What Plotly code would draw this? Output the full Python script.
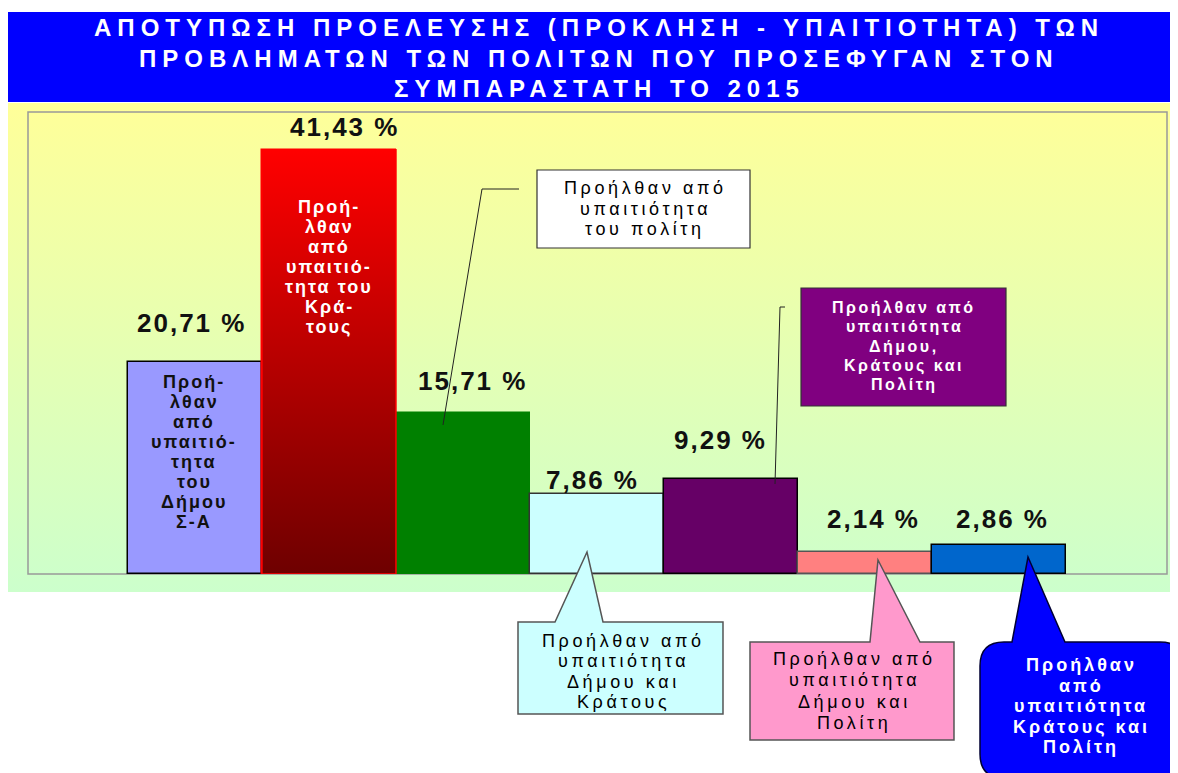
import base64
import plotly.graph_objects as go

# ---------------- data ----------------
categories = [
    "Προήλθαν από υπαιτιότητα του Δήμου Σ-Α",
    "Προήλθαν από υπαιτιότητα του Κράτους",
    "Προήλθαν από υπαιτιότητα του πολίτη",
    "Προήλθαν από υπαιτιότητα Δήμου και Κράτους",
    "Προήλθαν από υπαιτιότητα Δήμου, Κράτους και Πολίτη",
    "Προήλθαν από υπαιτιότητα Δήμου και Πολίτη",
    "Προήλθαν από υπαιτιότητα Κράτους και Πολίτη",
]
values = [20.71, 41.43, 15.71, 7.86, 9.29, 2.14, 2.86]
bar_colors = ["#9999FF", "#C00000", "#008000", "#CCFFFF", "#660066", "#FF8080", "#0066CC"]
line_colors = ["#000000", "#FF0000", "#008000", "#333333", "#000000", "#555555", "#000000"]
title_lines = [
    "ΑΠΟΤΥΠΩΣΗ ΠΡΟΕΛΕΥΣΗΣ (ΠΡΟΚΛΗΣΗ - ΥΠΑΙΤΙΟΤΗΤΑ) ΤΩΝ",
    "ΠΡΟΒΛΗΜΑΤΩΝ ΤΩΝ ΠΟΛΙΤΩΝ ΠΟΥ ΠΡΟΣΕΦΥΓΑΝ ΣΤΟΝ",
    "ΣΥΜΠΑΡΑΣΤΑΤΗ ΤΟ 2015",
]
bar1_lines = ["Προή-", "λθαν", "από", "υπαιτιό-", "τητα", "του", "Δήμου", "Σ-Α"]
bar2_lines = ["Προή-", "λθαν", "από", "υπαιτιό-", "τητα του", "Κρά-", "τους"]
call1_lines = ["Προήλθαν από", "υπαιτιότητα", "του πολίτη"]
call2_lines = ["Προήλθαν από", "υπαιτιότητα", "Δήμου,", "Κράτους και", "Πολίτη"]
call3_lines = ["Προήλθαν από", "υπαιτιότητα", "Δήμου και", "Κράτους"]
call4_lines = ["Προήλθαν από", "υπαιτιότητα", "Δήμου και", "Πολίτη"]
call5_lines = ["Προήλθαν", "από", "υπαιτιότητα", "Κράτους και", "Πολίτη"]

# ---------------- layout helpers (screen pixel positions) ----------------
OFF = 8                      # page body margin of the html page
W, H = 1178 - OFF, 773 - OFF
PL, PR, PT, PB = 28, 1167, 112, 574   # plot area on screen


def px(x):
    return (x - PL) / (PR - PL)


def py(y):
    return (PB - y) / (PB - PT)


FONT = "Liberation Sans, Arial, sans-serif"

fig = go.Figure()

x_idx = list(range(len(values)))
fig.add_trace(go.Bar(
    x=x_idx, y=values, width=1,
    marker=dict(color=bar_colors, line=dict(color=line_colors, width=1.5)),
    hovertext=categories, hoverinfo="text+y", showlegend=False,
))

# gradient overlay for the red bar (index 1), built from its value
i = 1
v = values[i]
fig.add_trace(go.Scatter(
    x=[i - 0.5, i + 0.5, i + 0.5, i - 0.5, i - 0.5],
    y=[0, 0, v, v, 0],
    mode="lines", fill="toself",
    fillgradient=dict(type="vertical", colorscale=[[0, "#6E0000"], [1, "#FF0000"]]),
    line=dict(color="#FF0000", width=1.5),
    hoverinfo="skip", showlegend=False,
))

# value labels
label_dx = [-3, 16, 10, -4, -10, 9, 4]
label_dy = [39, 23, 32, 14, 39, 33, 26]
annotations = []
for k, val in enumerate(values):
    txt = f"{val:.2f}".replace(".", ",") + " %"
    annotations.append(dict(
        x=k, y=val, xref="x", yref="y", xshift=label_dx[k], yshift=label_dy[k],
        text=f'<span style="letter-spacing:2px">{txt}</span>', showarrow=False,
        font=dict(family=FONT, size=26, color="#111111", weight="bold"),
        xanchor="center", yanchor="middle",
    ))


def add_lines(lines, cx, y0, step, size, color, bold, ls):
    for n, t in enumerate(lines):
        annotations.append(dict(
            x=px(cx), y=py(y0 + n * step), xref="paper", yref="paper",
            text=f'<span style="letter-spacing:{ls}px">{t}</span>', showarrow=False,
            font=dict(family=FONT, size=size, color=color, weight="bold" if bold else "normal"),
            xanchor="center", yanchor="middle",
        ))


add_lines(title_lines, 599, 28, 30, 24, "#FFFFFF", True, 6.0)
add_lines(bar1_lines, 194, 382, 20, 18, "#111111", True, 2)
add_lines(bar2_lines, 329, 207, 20, 18, "#FFFFFF", True, 2)
add_lines(call1_lines, 645, 188, 20.5, 18, "#000000", False, 3.6)
add_lines(call2_lines, 904, 307, 19.5, 16, "#FFFFFF", True, 2.5)
add_lines(call3_lines, 623, 641, 20.3, 18, "#000000", False, 3.6)
add_lines(call4_lines, 854, 659, 21.3, 18, "#000000", False, 3.6)
add_lines(call5_lines, 1081, 665, 20.5, 18, "#FFFFFF", True, 3)


def path(points, close=True):
    s = "M " + " L ".join(f"{px(a):.5f},{py(b):.5f}" for a, b in points)
    return s + (" Z" if close else "")


shapes = []
# title band
shapes.append(dict(type="rect", xref="paper", yref="paper", x0=px(8), x1=px(1180), y0=py(102), y1=py(12),
                   fillcolor="#0000FF", line=dict(width=0), layer="below"))
# plot-area border
shapes.append(dict(type="rect", xref="paper", yref="paper", x0=0, x1=1, y0=0, y1=1,
                   line=dict(color="#999999", width=1.5), fillcolor="rgba(0,0,0,0)", layer="below"))
# callout 1 (white box + leader)
shapes.append(dict(type="rect", xref="paper", yref="paper", x0=px(537), x1=px(750), y0=py(248), y1=py(170),
                   fillcolor="#FFFFFF", line=dict(color="#333333", width=1.2)))
shapes.append(dict(type="path", xref="paper", yref="paper",
                   path=path([(519, 189), (482, 189), (443, 425)], close=False),
                   line=dict(color="#222222", width=1)))
# callout 2 (purple box + leader)
shapes.append(dict(type="rect", xref="paper", yref="paper", x0=px(801), x1=px(1006), y0=py(406), y1=py(288),
                   fillcolor="#800080", line=dict(color="#333333", width=1.2)))
shapes.append(dict(type="path", xref="paper", yref="paper",
                   path=path([(785, 307), (780, 307), (775, 484)], close=False),
                   line=dict(color="#222222", width=1)))
# callout 3 (speech bubble)
shapes.append(dict(type="path", xref="paper", yref="paper",
                   path=path([(518, 622), (555, 622), (587, 552), (603, 622), (723, 622), (723, 714), (518, 714)]),
                   fillcolor="#CCFFFF", line=dict(color="#555555", width=1.5)))
# callout 4 (speech bubble)
shapes.append(dict(type="path", xref="paper", yref="paper",
                   path=path([(750, 642), (870, 642), (878, 560), (920, 642), (954, 642), (954, 740), (750, 740)]),
                   fillcolor="#FF99CC", line=dict(color="#555555", width=1.5)))
# callout 5 (rounded speech bubble)
r = 24
L5, T5, R5, B5 = 980, 642, 1184, 778
p5 = (f"M {px(L5 + r):.5f},{py(T5):.5f} L {px(1012):.5f},{py(T5):.5f} L {px(1028):.5f},{py(557):.5f} "
      f"L {px(1065):.5f},{py(T5):.5f} L {px(R5 - r):.5f},{py(T5):.5f} "
      f"Q {px(R5):.5f},{py(T5):.5f} {px(R5):.5f},{py(T5 + r):.5f} "
      f"L {px(R5):.5f},{py(B5 - r):.5f} Q {px(R5):.5f},{py(B5):.5f} {px(R5 - r):.5f},{py(B5):.5f} "
      f"L {px(L5 + r):.5f},{py(B5):.5f} Q {px(L5):.5f},{py(B5):.5f} {px(L5):.5f},{py(B5 - r):.5f} "
      f"L {px(L5):.5f},{py(T5 + r):.5f} Q {px(L5):.5f},{py(T5):.5f} {px(L5 + r):.5f},{py(T5):.5f} Z")
shapes.append(dict(type="path", xref="paper", yref="paper", path=p5,
                   fillcolor="#0000FF", line=dict(color="#000033", width=1.5)))

# background gradient panel
svg = ('<svg xmlns="http://www.w3.org/2000/svg" width="100" height="100" viewBox="0 0 100 100" '
       'preserveAspectRatio="none"><defs><linearGradient id="g" x1="0" y1="0" x2="0" y2="1">'
       '<stop offset="0" stop-color="#FFFF99"/><stop offset="1" stop-color="#CCFFCC"/>'
       '</linearGradient></defs><rect width="100" height="100" fill="url(#g)"/></svg>')
src = "data:image/svg+xml;base64," + base64.b64encode(svg.encode()).decode()
images = [dict(source=src, xref="paper", yref="paper", x=px(8), y=py(103),
               sizex=px(1180) - px(8), sizey=py(103) - py(592),
               xanchor="left", yanchor="top", sizing="stretch", layer="below")]

fig.update_layout(
    width=W, height=H,
    margin=dict(l=PL - OFF, r=W - (PR - OFF), t=PT - OFF, b=H - (PB - OFF), pad=0),
    paper_bgcolor="#FFFFFF", plot_bgcolor="rgba(0,0,0,0)",
    xaxis=dict(range=[-1.246, 7.254], visible=False, fixedrange=True),
    yaxis=dict(range=[0, 45.12], visible=False, fixedrange=True),
    bargap=0, showlegend=False,
    shapes=shapes, annotations=annotations, images=images,
)

fig.write_html("out.html")
